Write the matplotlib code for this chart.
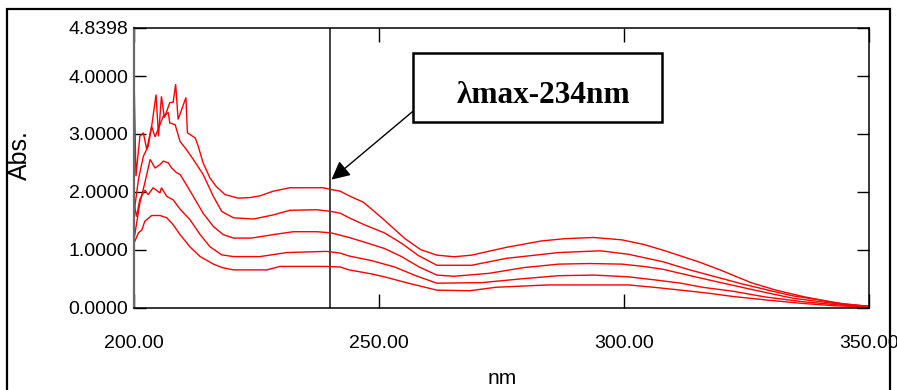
import matplotlib
matplotlib.use('Agg')
import matplotlib.pyplot as plt
from matplotlib.patches import Rectangle

# ---- data (wavelength nm, absorbance) ----
nm_1 = [200.0, 200.9, 201.6, 202.2, 203.6, 205.3, 206.7, 208.0, 209.4, 211.4, 213.5, 216.2, 218.0,
        220.3, 227.1, 229.8, 239.3, 242.1, 243.9, 248.5, 251.1, 256.0, 261.8, 268.5, 273.9, 284.5,
        300.9, 306.0, 311.6, 317.0, 322.3, 329.0, 336.5, 343.0, 350.0]
abs_1 = [1.11, 1.29, 1.34, 1.49, 1.59, 1.59, 1.55, 1.43, 1.26, 1.05, 0.88, 0.75, 0.69,
         0.65, 0.65, 0.71, 0.71, 0.70, 0.65, 0.58, 0.53, 0.42, 0.30, 0.29, 0.35, 0.39,
         0.39, 0.35, 0.30, 0.25, 0.19, 0.13, 0.07, 0.03, 0.01]

nm_2 = [200.0, 200.5, 201.2, 202.2, 202.9, 203.9, 205.3, 205.6, 206.7, 208.0, 209.4, 211.4, 213.5,
        215.5, 217.9, 220.3, 225.7, 231.2, 239.3, 242.1, 243.9, 248.5, 253.2, 257.5, 261.8, 271.0,
        279.6, 286.7, 294.0, 300.9, 306.0, 311.6, 316.0, 322.3, 329.0, 336.5, 343.0, 350.0]
abs_2 = [1.81, 1.57, 1.87, 2.03, 1.95, 2.07, 1.98, 2.07, 1.92, 1.86, 1.70, 1.52, 1.26,
         1.05, 0.91, 0.88, 0.88, 0.95, 0.97, 0.94, 0.89, 0.81, 0.70, 0.55, 0.42, 0.43,
         0.50, 0.55, 0.56, 0.53, 0.48, 0.42, 0.35, 0.28, 0.18, 0.10, 0.05, 0.015]

nm_3 = [200.0, 201.2, 202.2, 203.3, 204.3, 205.3, 206.0, 207.0, 207.7, 208.7, 209.4, 210.7, 212.1,
        214.1, 216.2, 218.2, 220.3, 224.0, 228.4, 232.5, 237.3, 240.2, 243.9, 247.0, 251.1, 254.6,
        258.2, 261.8, 265.3, 272.4, 279.6, 286.7, 293.0, 299.5, 304.0, 308.0, 313.0, 318.7, 324.0,
        329.4, 334.5, 340.1, 345.0, 350.0]
abs_3 = [1.17, 1.81, 2.15, 2.56, 2.41, 2.47, 2.53, 2.50, 2.41, 2.33, 2.30, 2.12, 1.92,
         1.63, 1.40, 1.26, 1.20, 1.20, 1.26, 1.31, 1.31, 1.29, 1.21, 1.13, 1.02, 0.88,
         0.70, 0.56, 0.54, 0.59, 0.69, 0.75, 0.76, 0.75, 0.71, 0.66, 0.56, 0.45, 0.35,
         0.25, 0.16, 0.10, 0.05, 0.015]

nm_4 = [200.0, 200.9, 201.9, 202.9, 203.6, 204.3, 205.0, 206.0, 207.0, 207.3, 208.4, 209.4, 210.7,
        212.1, 214.1, 216.2, 217.9, 220.3, 224.4, 228.4, 231.8, 237.3, 240.2, 242.1, 243.9, 247.0,
        251.1, 254.6, 258.0, 261.8, 268.9, 276.0, 286.7, 295.2, 300.9, 308.0, 313.0, 318.7, 324.0,
        329.4, 334.5, 340.1, 345.0, 350.0]
abs_4 = [1.63, 2.21, 2.61, 2.79, 3.13, 2.95, 3.10, 3.31, 3.37, 3.19, 3.16, 2.87, 2.73,
         2.56, 2.30, 1.92, 1.66, 1.55, 1.53, 1.60, 1.68, 1.69, 1.66, 1.63, 1.55, 1.43,
         1.29, 1.11, 0.90, 0.73, 0.73, 0.85, 0.95, 0.98, 0.92, 0.79, 0.66, 0.53, 0.41,
         0.30, 0.20, 0.13, 0.06, 0.02]

nm_5 = [200.0, 200.4, 201.2, 201.9, 202.6, 203.6, 204.5, 205.0, 205.6, 206.2, 207.3, 208.0, 208.5,
        209.0, 210.6, 210.9, 212.5, 213.1, 214.1, 215.5, 216.8, 218.6, 221.3, 223.7, 225.7, 228.4,
        231.8, 238.6, 240.2, 242.1, 243.9, 246.8, 248.5, 251.1, 255.3, 258.5, 261.8, 265.3, 268.9,
        276.0, 283.1, 288.0, 293.8, 299.5, 304.0, 308.0, 315.2, 319.6, 325.9, 331.0, 336.5, 343.0,
        350.0]
abs_5 = [4.00, 2.27, 2.96, 3.02, 2.73, 3.13, 3.68, 2.96, 3.65, 3.28, 3.54, 3.55, 3.86,
         3.25, 3.63, 3.02, 2.93, 2.79, 2.50, 2.24, 2.09, 1.95, 1.89, 1.90, 1.93, 2.01,
         2.07, 2.07, 2.04, 2.01, 1.93, 1.82, 1.70, 1.51, 1.19, 1.00, 0.905, 0.877, 0.905,
         1.04, 1.15, 1.19, 1.21, 1.17, 1.09, 0.99, 0.79, 0.65, 0.43, 0.30, 0.19, 0.08,
         0.02]

x_ticks = [200, 250, 300, 350]
x_tick_labels = ['200.00', '250.00', '300.00', '350.00']
y_ticks = [0.0, 1.0, 2.0, 3.0, 4.0, 4.8398]
y_tick_labels = ['0.0000', '1.0000', '2.0000', '3.0000', '4.0000', '4.8398']
x_range = (200, 350)
y_range = (0.0, 4.8398)
marker_nm = 240
arrow_tip = (240.3, 2.21)
arrow_tail = (256.9, 3.39)
annotation = 'λmax-234nm'

W, H = 897, 390
plt.rcParams['font.family'] = ['Liberation Sans', 'DejaVu Sans']

fig = plt.figure(figsize=(W / 100, H / 100), dpi=100)
ax = fig.add_axes([134 / W, 1 - 307.5 / H, (869 - 134) / W, (307.5 - 27.5) / H])

series = [(nm_1, abs_1), (nm_2, abs_2), (nm_3, abs_3), (nm_4, abs_4), (nm_5, abs_5)]
for xs, ys in series:
    ax.plot(xs, ys, color='#ff0000', lw=1.0, solid_joinstyle='miter')

ax.set_xlim(*x_range)
ax.set_ylim(*y_range)
ax.set_xticks(x_ticks)
ax.set_xticklabels(x_tick_labels)
ax.set_yticks(y_ticks)
ax.set_yticklabels(y_tick_labels)
ax.tick_params(axis='both', direction='in', top=True, right=True, colors='black',
               labelsize=14, width=1.0)
ax.tick_params(axis='y', length=8.6, pad=4)
ax.tick_params(axis='x', length=10, pad=20)
for s in ['top', 'right', 'bottom']:
    ax.spines[s].set_color('black')
    ax.spines[s].set_linewidth(1.1)
ax.spines['left'].set_color('#6a6a6a')
ax.spines['left'].set_linewidth(1.6)

ax.axvline(marker_nm, color='#222222', lw=1.2, zorder=1)

ax.annotate('', xy=arrow_tip, xytext=arrow_tail,
            arrowprops=dict(arrowstyle='-|>', color='black', lw=1.0, mutation_scale=28,
                            shrinkA=0, shrinkB=0),
            annotation_clip=False)

fig.add_artist(Rectangle((413 / W, 1 - 121.7 / H), 249 / W, 69 / H, transform=fig.transFigure,
                         fill=True, fc='white', ec='black', lw=1.8))
fig.text(543 / W, 1 - 103.3 / H, annotation, ha='center', va='baseline', fontsize=22.5,
         fontweight='bold', family=['Liberation Serif', 'DejaVu Serif'])

# outer frame
fig.add_artist(Rectangle((7 / W, -0.05), (890 - 7) / W, 1.05 - 9 / H, transform=fig.transFigure,
                         fill=False, ec='black', lw=1.6))

fig.text(20 / W, 1 - 155 / H, 'Abs.', rotation=90, ha='center', va='center', fontsize=18)
fig.text(502 / W, 1 - 378 / H, 'nm', ha='center', va='center', fontsize=15)

fig.savefig('out.png', dpi=100)
